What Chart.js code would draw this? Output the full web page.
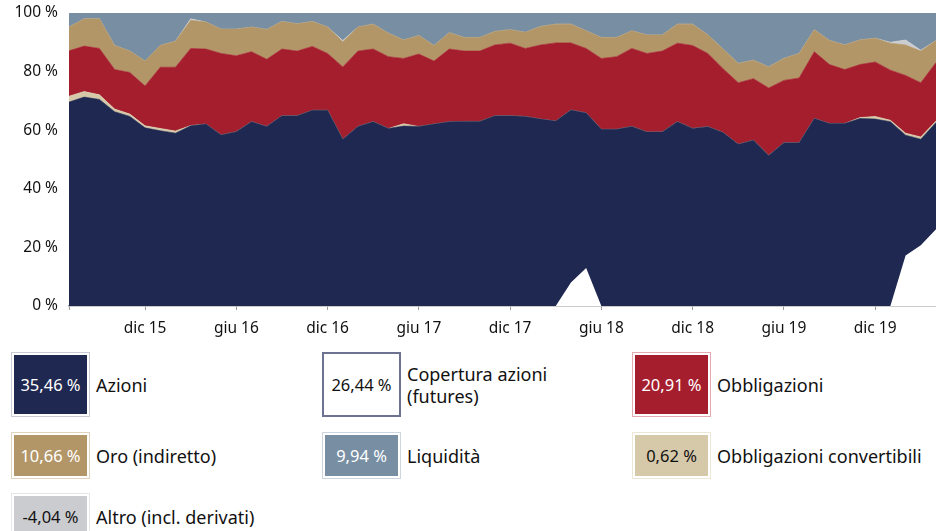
<!DOCTYPE html>
<html>
<head>
<meta charset="utf-8">
<script src="https://cdn.jsdelivr.net/npm/chart.js@4"></script>
<style>
  html, body { margin: 0; padding: 0; background: #fff; }
  body { width: 936px; height: 531px; position: relative; overflow: hidden; font-family: "Noto Sans", sans-serif; color: #111; }
  #wrap { position: absolute; left: 0; top: 0; width: 936px; height: 343px; }
  .item { position: absolute; display: flex; align-items: center; }
  .box { box-sizing: border-box; display: flex; align-items: center; justify-content: center; font-size: 16.5px; white-space: nowrap; }
  .lab { font-size: 18px; line-height: 22px; margin-left: 6px; white-space: nowrap; }
</style>
</head>
<body>
<div id="wrap"><canvas id="c"></canvas></div>
<div id="legend"></div>
<script>
// ---- data ----
const months = ['lug 15','ago 15','set 15','ott 15','nov 15','dic 15','gen 16','feb 16','mar 16','apr 16','mag 16','giu 16',
  'lug 16','ago 16','set 16','ott 16','nov 16','dic 16','gen 17','feb 17','mar 17','apr 17','mag 17','giu 17',
  'lug 17','ago 17','set 17','ott 17','nov 17','dic 17','gen 18','feb 18','mar 18','apr 18','mag 18','giu 18',
  'lug 18','ago 18','set 18','ott 18','nov 18','dic 18','gen 19','feb 19','mar 19','apr 19','mag 19','giu 19',
  'lug 19','ago 19','set 19','ott 19','nov 19','dic 19','gen 20','feb 20','mar 20','apr 20'];
const tickLabels = ['dic 15','giu 16','dic 16','giu 17','dic 17','giu 18','dic 18','giu 19','dic 19'];

const azioni = [69.6,71.3,70.5,66.3,64.7,60.8,59.8,59.0,61.5,62.1,58.4,59.5,
  62.9,61.3,64.9,64.9,66.8,66.8,56.9,61.3,62.9,60.6,61.4,61.3,
  62.1,62.9,63.0,63.0,64.9,64.9,64.7,63.8,63.1,66.9,65.9,60.3,
  60.3,61.3,59.4,59.4,62.9,60.6,61.2,59.2,55.2,56.6,51.4,55.7,
  55.7,64.0,62.3,62.3,64.0,63.8,62.9,58.3,56.9,62.6];
const obbConv = [2.0,1.9,1.6,0.9,0.8,0.7,0.8,0.7,0.1,0,0,0,
  0,0,0,0,0,0,0,0,0,0,0.8,0,
  0,0,0,0,0,0,0,0,0,0,0,0,
  0,0,0,0,0,0,0,0,0,0,0,0,
  0,0,0,0,0.3,0.9,0.5,0.7,0.8,0.5];
const obbligazioni = [15.5,15.5,15.8,13.5,14.2,13.6,20.9,21.8,26.3,25.6,27.8,25.9,
  23.9,22.9,22.8,22.1,21.8,19.4,24.7,25.7,24.8,24.5,22.3,24.7,
  21.5,24.8,24.0,24.0,24.2,24.8,23.2,25.3,26.7,22.9,22.0,24.2,
  24.8,26.6,26.8,27.6,26.8,28.3,25.0,21.8,21.0,21.0,23.0,21.3,
  22.1,22.8,20.1,18.4,18.1,18.6,17.1,19.7,18.5,20.0];
const oro = [8.1,9.3,10.1,8.2,7.3,8.5,7.4,8.9,9.6,9.2,8.3,9.1,
  8.4,10.2,9.4,9.3,8.5,9.0,8.6,8.2,8.5,8.0,6.3,6.3,
  5.3,5.6,4.6,4.6,4.6,4.6,5.5,6.3,6.4,6.4,6.0,7.1,
  6.5,6.0,6.3,5.5,6.5,7.3,6.3,6.7,6.6,6.3,7.2,7.5,
  8.4,7.5,8.2,8.4,8.4,8.1,9.2,10.4,10.8,7.5];
const altro = [0,0,0,0,0,0,0,0,0.5,0,0,0,
  0,0,0,0,0,0,0.4,0,0,0,0,0,
  0,0,0,0,0,0,0,0,0,0,0,0,
  0,0,0,0,0,0,0,0,0,0,0,0,
  0,0,0,0,0,0,0.3,1.7,0.3,0];
const liquidita = [4.8,2.0,2.0,11.1,13.0,16.4,11.1,9.6,2.0,3.1,5.5,5.5,
  4.8,5.6,2.9,3.7,2.9,4.8,9.4,4.8,3.8,6.9,9.2,7.7,
  11.1,6.7,8.4,8.4,6.3,5.7,6.6,4.6,3.8,3.8,6.1,8.4,
  8.4,6.1,7.5,7.5,3.8,3.8,7.5,12.3,17.2,16.1,18.4,15.5,
  13.8,5.7,9.4,10.9,9.2,8.6,10.0,9.2,12.7,9.4];
const copertura = [0,0,0,0,0,0,0,0,0,0,0,0,
  0,0,0,0,0,0,0,0,0,0,0,0,
  0,0,0,0,0,0,0,0,0,8,13,0,
  0,0,0,0,0,0,0,0,0,0,0,0,
  0,0,0,0,0,0,0,17.2,20.7,26.2];

const legendNames = ['Azioni','Copertura azioni\n(futures)','Obbligazioni','Oro (indiretto)','Liquidità','Obbligazioni convertibili','Altro (incl. derivati)'];
const legendValues = ['35,46 %','26,44 %','20,91 %','10,66 %','9,94 %','0,62 %','-4,04 %'];

// ---- styles ----
const C = {
  navy: '#1f2850', red: '#a51e2e', gold: '#b29667', liq: '#788fa3',
  conv: '#d6c9a9', altro: '#cbcccf', hedgeBorder: '#6c7290'
};

function area(label, data, color, fill) {
  return { label, data, backgroundColor: color, borderColor: color, borderWidth: 0.6,
    pointRadius: 0, pointHoverRadius: 0, fill, tension: 0, stack: 'main' };
}

const ctx = document.getElementById('c');
new Chart(ctx, {
  type: 'line',
  data: {
    labels: months,
    datasets: [
      area('Azioni', azioni, C.navy, 'origin'),
      area('Obbligazioni convertibili', obbConv, C.conv, '-1'),
      area('Obbligazioni', obbligazioni, C.red, '-1'),
      area('Oro (indiretto)', oro, C.gold, '-1'),
      area('Altro (incl. derivati)', altro, C.altro, '-1'),
      area('Liquidità', liquidita, C.liq, '-1'),
      { label: 'Copertura azioni (futures)', data: copertura, backgroundColor: '#ffffff', borderColor: '#ffffff',
        borderWidth: 0, pointRadius: 0, fill: 'origin', tension: 0, stack: 'hedge', order: -1 }
    ]
  },
  options: {
    responsive: true,
    maintainAspectRatio: false,
    animation: false,
    layout: { padding: { top: 13, right: 0, left: 0, bottom: 0 } },
    plugins: { legend: { display: false }, tooltip: { enabled: false } },
    scales: {
      x: {
        offset: false,
        grid: { display: true, drawOnChartArea: false, drawTicks: true, tickLength: 4, color: '#9a9a9a' },
        border: { display: true, color: '#9a9a9a', width: 1.5 },
        ticks: {
          autoSkip: false, maxRotation: 0, padding: 9,
          color: '#111', font: { family: 'Noto Sans', size: 15.5 },
          callback: function (v, i) {
            const l = this.getLabelForValue(v);
            if (i === 0) return '';
            return tickLabels.includes(l) ? l : null;
          }
        },
        afterFit: s => { s.height = 37; }
      },
      y: {
        stacked: true, min: 0, max: 100,
        grid: { display: false },
        border: { display: false },
        ticks: { stepSize: 20, padding: 3, color: '#111', font: { family: 'Noto Sans', size: 15.5 },
          callback: v => v + ' %' },
        afterFit: s => { s.width = 69; }
      }
    }
  }
});

// ---- legend ----
const legendStyle = [
  { fill: C.navy, text: '#fff', outer: '#c9ccd6', x: 11, y: 352, h: 65 },
  { fill: '#fff', text: '#111', outer: null, x: 322, y: 352, h: 65 },
  { fill: C.red, text: '#fff', outer: '#e2a9b0', x: 632, y: 352, h: 65 },
  { fill: C.gold, text: '#fff', outer: '#e0d3bd', x: 11, y: 432, h: 47 },
  { fill: C.liq, text: '#fff', outer: '#cdd6df', x: 322, y: 432, h: 47 },
  { fill: C.conv, text: '#111', outer: '#eee6d6', x: 632, y: 432, h: 47 },
  { fill: C.altro, text: '#111', outer: '#e6e6e6', x: 11, y: 493, h: 47 }
];
const lg = document.getElementById('legend');
legendNames.forEach((name, i) => {
  const s = legendStyle[i];
  const item = document.createElement('div');
  item.className = 'item';
  item.style.left = s.x + 'px'; item.style.top = s.y + 'px'; item.style.height = s.h + 'px';
  const box = document.createElement('div');
  box.className = 'box';
  box.style.width = '79px'; box.style.height = s.h + 'px';
  if (s.outer) {
    box.style.border = '1px solid ' + s.outer;
    box.style.padding = '2px';
    const inner = document.createElement('div');
    inner.style.cssText = 'width:100%;height:100%;display:flex;align-items:center;justify-content:center;background:' + s.fill + ';color:' + s.text;
    inner.textContent = legendValues[i];
    box.appendChild(inner);
  } else {
    box.style.border = '2.5px solid ' + C.hedgeBorder;
    box.style.background = s.fill; box.style.color = s.text;
    box.textContent = legendValues[i];
  }
  const lab = document.createElement('div');
  lab.className = 'lab';
  lab.innerHTML = name.split('\n').join('<br>');
  item.appendChild(box); item.appendChild(lab);
  lg.appendChild(item);
});
</script>
</body>
</html>
